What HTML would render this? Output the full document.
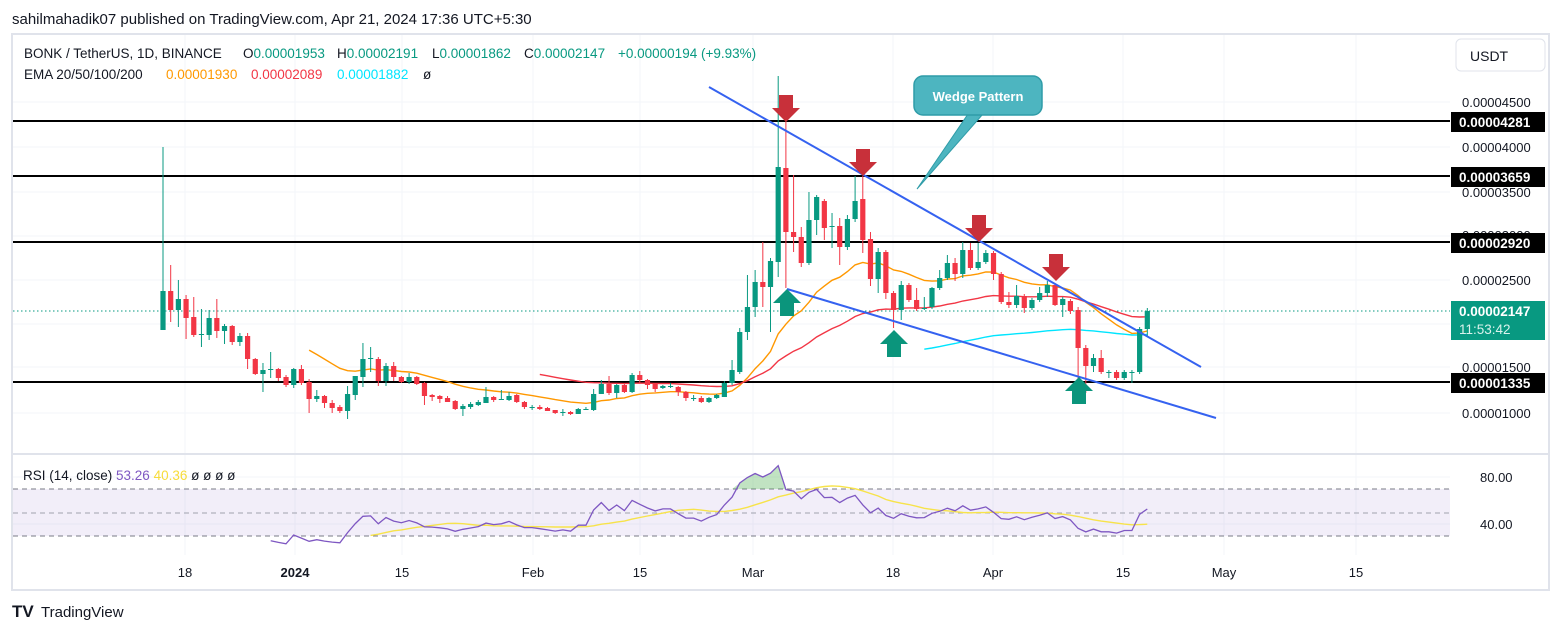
<!DOCTYPE html>
<html><head><meta charset="utf-8"><style>
html,body{margin:0;padding:0;background:#fff;width:1564px;height:633px;overflow:hidden}
svg{display:block;font-family:"Liberation Sans",sans-serif}
</style></head><body>
<svg id="s" width="1564" height="633" viewBox="0 0 1564 633" xmlns="http://www.w3.org/2000/svg">
<rect x="0" y="0" width="1564" height="633" fill="#fff"/>
<text x="12" y="24" font-size="15" fill="#131722">sahilmahadik07 published on TradingView.com, Apr 21, 2024 17:36 UTC+5:30</text>
<rect x="12" y="34" width="1537" height="556" fill="none" stroke="#e0e3eb" stroke-width="2"/>
<g id="grid" stroke="#f3f5fa" stroke-width="1"></g>
<g stroke="#000" stroke-width="2">
<line x1="13" y1="121" x2="1450" y2="121"/><line x1="13" y1="176" x2="1450" y2="176"/>
<line x1="13" y1="242" x2="1450" y2="242"/><line x1="13" y1="382" x2="1450" y2="382"/>
</g>
<line x1="13" y1="311" x2="1450" y2="311" stroke="#089981" stroke-width="1" stroke-dasharray="1.5,2.5"/>
<g id="ema"></g>
<g id="candles"></g>
<line x1="709" y1="87" x2="1201" y2="367" stroke="#3562f0" stroke-width="2"/>
<line x1="787" y1="289" x2="1216" y2="418" stroke="#3562f0" stroke-width="2"/>
<g fill="#c8303a">
<path d="M779,95h14v13h7l-14,14l-14,-14h7z"/>
<path d="M856,149h14v13h7l-14,14l-14,-14h7z"/>
<path d="M972,215h14v13h7l-14,14l-14,-14h7z"/>
<path d="M1049,254h14v13h7l-14,14l-14,-14h7z"/>
</g>
<g fill="#0b957c">
<path d="M780,316h14v-13h7l-14,-14l-14,14h7z"/>
<path d="M887,357h14v-13h7l-14,-14l-14,14h7z"/>
<path d="M1072,404h14v-13h7l-14,-14l-14,14h7z"/>
</g>
<path d="M968,114 L983,114 L917,189 Z" fill="#4db5c0" stroke="#2f9ca8" stroke-width="1"/>
<rect x="914" y="76" width="128" height="39" rx="9" fill="#4db5c0" stroke="#2f9ca8" stroke-width="1.5"/>
<text x="978" y="101" font-size="13" font-weight="bold" fill="#fff" text-anchor="middle">Wedge Pattern</text>
<g font-size="13.5" fill="#131722">
<text x="24" y="58">BONK / TetherUS, 1D, BINANCE</text>
<text x="243" y="58">O<tspan fill="#089981">0.00001953</tspan></text>
<text x="337" y="58">H<tspan fill="#089981">0.00002191</tspan></text>
<text x="432" y="58">L<tspan fill="#089981">0.00001862</tspan></text>
<text x="524" y="58">C<tspan fill="#089981">0.00002147</tspan></text>
<text x="618" y="58" fill="#089981">+0.00000194 (+9.93%)</text>
<text x="24" y="79">EMA 20/50/100/200</text>
<text x="166" y="79" fill="#ff9800">0.00001930</text>
<text x="251" y="79" fill="#f23645">0.00002089</text>
<text x="337" y="79" fill="#00e5ff">0.00001882</text>
<text x="423" y="79">ø</text>
</g>
<rect x="1456" y="39" width="89" height="32" rx="5" fill="#fff" stroke="#e0e3eb"/>
<text x="1470" y="61" font-size="14" fill="#131722">USDT</text>
<g font-size="13" fill="#131722">
<text x="1462" y="107">0.00004500</text><text x="1462" y="152">0.00004000</text>
<text x="1462" y="197">0.00003500</text><text x="1462" y="240">0.00003000</text>
<text x="1462" y="285">0.00002500</text><text x="1462" y="372">0.00001500</text>
<text x="1462" y="418">0.00001000</text>
</g>
<g font-size="13.5" font-weight="bold" fill="#fff">
<rect x="1451" y="112" width="94" height="20" fill="#000"/><text x="1459" y="127">0.00004281</text>
<rect x="1451" y="167" width="94" height="20" fill="#000"/><text x="1459" y="182">0.00003659</text>
<rect x="1451" y="233" width="94" height="20" fill="#000"/><text x="1459" y="248">0.00002920</text>
<rect x="1451" y="373" width="94" height="20" fill="#000"/><text x="1459" y="388">0.00001335</text>
<rect x="1451" y="301" width="94" height="39" fill="#089981"/><text x="1459" y="316">0.00002147</text>
<text x="1459" y="334" font-weight="normal" fill="#d9f2ec">11:53:42</text>
</g>
<line x1="13" y1="454" x2="1548" y2="454" stroke="#e0e3eb" stroke-width="2"/>
<rect x="13" y="489" width="1437" height="47" fill="#7e57c2" fill-opacity="0.1"/>
<g stroke="#787b86" stroke-width="1" stroke-dasharray="5,4">
<line x1="13" y1="489" x2="1450" y2="489"/><line x1="13" y1="536" x2="1450" y2="536"/>
</g>
<line x1="13" y1="513" x2="1450" y2="513" stroke="#a0a3ad" stroke-width="1" stroke-dasharray="5,4"/>
<g id="rsi"></g>
<text x="23" y="480" font-size="13.5" fill="#131722">RSI (14, close) <tspan fill="#7e57c2">53.26</tspan> <tspan fill="#f7dc3a">40.36</tspan>  ø  ø  ø  ø</text>
<text x="1480" y="482" font-size="13" fill="#131722">80.00</text>
<text x="1480" y="529" font-size="13" fill="#131722">40.00</text>
<g font-size="13" fill="#131722" text-anchor="middle">
<text x="185" y="577">18</text><text x="295" y="577" font-weight="bold">2024</text>
<text x="402" y="577">15</text><text x="533" y="577">Feb</text><text x="640" y="577">15</text>
<text x="753" y="577">Mar</text><text x="893" y="577">18</text><text x="993" y="577">Apr</text>
<text x="1123" y="577">15</text><text x="1224" y="577">May</text><text x="1356" y="577">15</text>
</g>
<text x="12" y="617" font-size="17" font-weight="bold" fill="#131722">TV</text>
<text x="41" y="617" font-size="15" fill="#131722">TradingView</text>
</svg>
<script>
var D=[[330,291,147,330],[291,310,265,322],[310,299,280,327],[299,318,295,339],[317,335,297,337],[334,334,309,347],[335,318,310,340],[318,331,299,338],[331,326,324,344],[326,342,325,345],[342,336,333,346],[336,359,333,369],[359,374,358,375],[374,370,363,392],[369,369,352,378],[369,378,368,381],[377,385,375,387],[385,369,368,388],[369,383,365,385],[382,399,379,413],[399,396,390,402],[396,403,395,408],[403,408,400,413],[407,411,405,413],[411,394,386,419],[395,376,376,400],[377,359,343,387],[358,358,347,372],[359,381,357,386],[381,366,363,386],[366,377,362,381],[377,382,376,383],[382,377,373,384],[377,384,376,385],[383,396,382,405],[395,397,394,401],[396,399,395,403],[398,402,396,402],[401,409,400,410],[409,406,404,416],[407,404,402,409],[405,402,400,406],[403,397,387,403],[397,400,396,402],[399,399,390,400],[400,396,392,401],[395,402,394,403],[402,407,401,409],[407,407,405,410],[407,409,405,410],[408,411,407,411],[410,413,410,414],[412,412,409,416],[412,414,411,415],[414,409,408,414],[409,409,407,410],[410,394,389,411],[394,384,380,388],[384,393,376,395],[393,385,384,398],[385,392,383,393],[392,375,373,393],[375,380,371,383],[380,385,379,389],[384,389,383,392],[388,386,385,389],[386,386,383,388],[387,392,386,396],[392,398,391,401],[398,398,395,401],[398,402,396,403],[402,398,397,403],[398,395,394,399],
[397,383,381,397],[383,370,360,385],[372,332,328,374],[332,307,275,340],[307,282,270,317],[282,287,242,307],[287,261,258,332],[262,167,76,277],[168,232,120,288],[232,237,175,252],[237,263,227,267],[263,220,192,265],[220,197,195,235],[201,228,199,240],[226,226,213,248],[226,247,218,265],[247,219,215,250],[219,201,176,222],[199,240,176,253],[239,279,232,286],[279,252,248,293],[252,293,250,299],[293,310,291,328],[310,285,281,320],[285,300,283,302],[300,309,288,311],[308,308,297,310],[307,288,287,309],[288,278,270,290],[278,263,255,280],[263,274,258,281],[274,250,242,278],[250,268,243,270],[268,262,243,270],[262,253,250,264],[253,274,251,280],[274,302,272,304],[302,305,292,308],[305,296,285,308],[296,308,294,313],[308,300,298,310],[300,293,287,302],[293,285,281,297],[285,305,283,306],[305,299,297,317],[301,311,299,314],[310,348,307,392],[348,366,345,393],[366,358,354,372],[358,372,350,374],[372,372,370,378],[372,378,370,380],[378,372,370,380],[372,372,370,383],[372,329,327,374],[329,311,308,337]];
var NS="http://www.w3.org/2000/svg";
function X(i){return 163+i*7.69;}
function el(p,t,a){var e=document.createElementNS(NS,t);for(var k in a)e.setAttribute(k,a[k]);p.appendChild(e);return e;}
var g=document.getElementById('grid');
[185,295,402,533,640,753,893,993,1123,1224,1356].forEach(function(x){el(g,'line',{x1:x,y1:35,x2:x,y2:555});});
[102,147,192,236,280,324,367,413,477,524].forEach(function(y){el(g,'line',{x1:13,y1:y,x2:1450,y2:y});});
var c=document.getElementById('candles');
D.forEach(function(d,i){var x=X(i),up=d[1]<=d[0],col=up?'#089981':'#f23645';
el(c,'line',{x1:x,y1:d[2],x2:x,y2:d[3],stroke:col,'stroke-width':1});
var t=Math.min(d[0],d[1]),h=Math.max(1,Math.abs(d[0]-d[1]));
el(c,'rect',{x:x-2.6,y:t,width:5.2,height:h,fill:col});});
function ema(start,seed,n,col){var a=2/(n+1),v=seed,pts=[];for(var i=start;i<D.length;i++){v=v+a*(D[i][1]-v);pts.push(X(i).toFixed(1)+','+v.toFixed(1));}
el(document.getElementById('ema'),'polyline',{points:pts.join(' '),fill:'none',stroke:col,'stroke-width':1.4});}
ema(19,345,20,'#ff9800');ema(49,373,50,'#f23645');ema(99,350,100,'#00e5ff');
function P(y){return 45-(y-102)/8.886;}
var cl=D.map(function(d){return P(d[1]);});
var ag=0,al=0,rs=[];
for(var i=1;i<cl.length;i++){var ch=cl[i]-cl[i-1],gn=Math.max(ch,0),ls=Math.max(-ch,0);
if(i<=14){ag+=gn/14;al+=ls/14;}else{ag=(ag*13+gn)/14;al=(al*13+ls)/14;}
rs[i]=(i>=14)?100-100/(1+ag/(al||1e-9)):null;}
function RY(v){return 513-(v-50)*1.18;}
var r=document.getElementById('rsi'),pts=[];
var ob=[];
for(var i=14;i<cl.length;i++){pts.push(X(i).toFixed(1)+','+RY(rs[i]).toFixed(1));ob.push(X(i).toFixed(1)+','+Math.min(489,RY(rs[i])).toFixed(1));}
el(r,'polygon',{points:X(14)+',489 '+ob.join(' ')+' '+X(cl.length-1)+',489',fill:'#4caf50','fill-opacity':0.35});
var ma=[];for(var i=27;i<cl.length;i++){var s=0;for(var j=i-13;j<=i;j++)s+=rs[j];ma.push(X(i).toFixed(1)+','+RY(s/14).toFixed(1));}
el(r,'polyline',{points:ma.join(' '),fill:'none',stroke:'#f7e34a','stroke-width':1.4});
el(r,'polyline',{points:pts.join(' '),fill:'none',stroke:'#7e57c2','stroke-width':1.3});
</script>
</body></html>
